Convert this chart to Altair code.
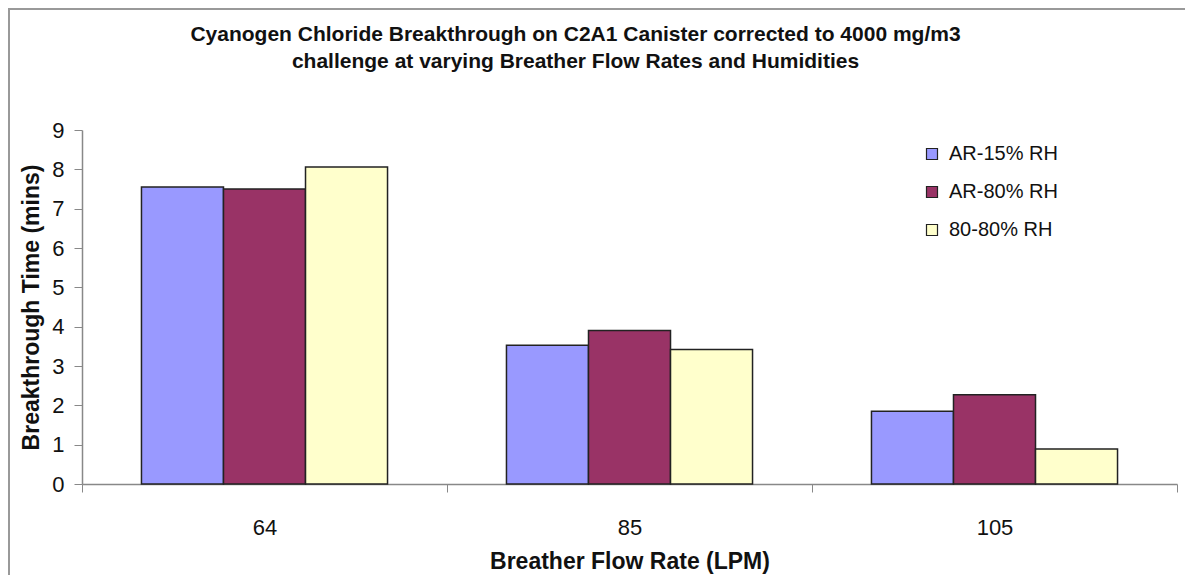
import altair as alt
import pandas as pd

flow_rates = ["64", "85", "105"]
series = ["AR-15% RH", "AR-80% RH", "80-80% RH"]
ar15 = [7.55, 3.53, 1.85]
ar80 = [7.50, 3.90, 2.27]
s8080 = [8.06, 3.42, 0.89]
colors = ["#9999FF", "#993366", "#FFFFCC"]

rows = []
for i, fr in enumerate(flow_rates):
    for s, vals in zip(series, [ar15, ar80, s8080]):
        rows.append({"flow": fr, "series": s, "time": vals[i]})
df = pd.DataFrame(rows)

W, H = 1095, 354
FONT = "Liberation Sans"

bars = alt.Chart(df).mark_bar(stroke="#222222", strokeWidth=1.5).encode(
    x=alt.X("flow:N", sort=flow_rates,
            scale=alt.Scale(paddingInner=0, paddingOuter=0),
            axis=alt.Axis(title="Breather Flow Rate (LPM)", labelAngle=0,
                          tickBand="extent", tickSize=8, tickColor="#888888",
                          domainColor="#888888", domainWidth=1.5,
                          labelFontSize=22, labelColor="#111111", labelPadding=25,
                          titleFontSize=23, titleFontWeight="bold", titlePadding=12,
                          labelFont=FONT, titleFont=FONT, titleColor="#111111")),
    xOffset=alt.XOffset("series:N", sort=series,
                        scale=alt.Scale(paddingInner=0, paddingOuter=0.725)),
    y=alt.Y("time:Q", scale=alt.Scale(domain=[0, 9], nice=False),
            axis=alt.Axis(title="Breakthrough Time (mins)", values=list(range(10)),
                          grid=False, tickSize=8, tickColor="#888888",
                          domainColor="#888888", domainWidth=1.5,
                          labelFontSize=22, labelColor="#111111", labelPadding=10,
                          titleFontSize=23, titleFontWeight="bold", titlePadding=8,
                          labelFont=FONT, titleFont=FONT, titleColor="#111111")),
    color=alt.Color("series:N", sort=series,
                    scale=alt.Scale(domain=series, range=colors),
                    legend=alt.Legend(title=None, orient="none", legendX=840, legendY=14,
                                      symbolType="square", symbolSize=121,
                                      symbolStrokeColor="#222222", symbolStrokeWidth=1.2,
                                      labelFontSize=20, labelFont=FONT, labelColor="#111111",
                                      labelOffset=7, rowPadding=18)),
)

border = alt.Chart(pd.DataFrame({"a": [0]})).mark_rect(
    fill=None, stroke="#999999", strokeWidth=2, clip=False
).encode(
    x=alt.value(-73), x2=alt.value(W + 60),
    y=alt.value(-121), y2=alt.value(H + 200),
)

chart = alt.layer(border, bars).properties(
    width=W, height=H,
    autosize=alt.AutoSizeParams(type="none"),
    padding={"left": 74, "top": 122, "right": 8, "bottom": 91},
    title=alt.Title(
        ["Cyanogen Chloride Breakthrough on C2A1 Canister corrected to 4000 mg/m3",
         "challenge at varying Breather Flow Rates and Humidities"],
        fontSize=21, font=FONT, fontWeight="bold", color="#111111",
        anchor="middle", lineHeight=27, offset=-64, dx=-54,
    ),
).configure_view(stroke=None)

chart.save("out.html", embed_options={"renderer": "svg", "actions": False})
